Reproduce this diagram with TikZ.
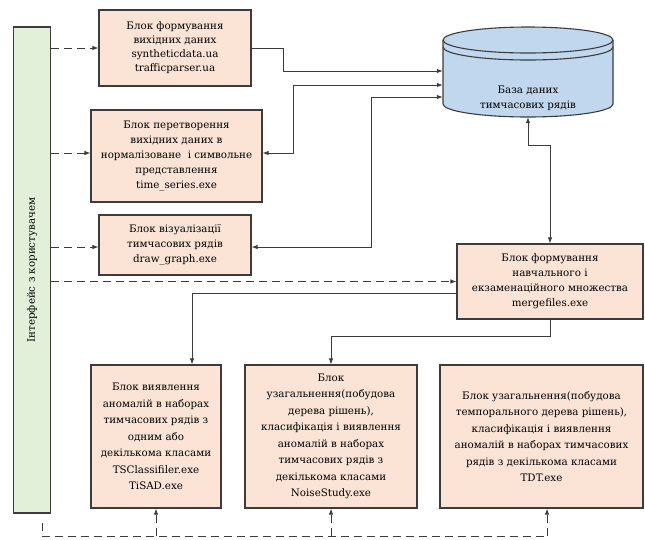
\documentclass[tikz,border=0pt]{standalone}
\usepackage{fontspec}
\setmainfont{DejaVu Serif}
\usetikzlibrary{arrows.meta}

\definecolor{blokfill}{RGB}{251,228,214}
\definecolor{uifill}{RGB}{226,240,217}
\definecolor{dbfill}{RGB}{192,215,238}
\definecolor{liniya}{RGB}{60,60,60}

\begin{document}
\begin{tikzpicture}[x=1pt, y=-1pt, >={Latex[length=6pt,width=4.5pt]},
    blok/.style={draw=liniya, line width=1.1pt, fill=blokfill, align=center, inner sep=1pt,
        font=\fontsize{10.3}{15}\selectfont},
    nyzblok/.style={blok, minimum height=143pt, font=\fontsize{10.3}{16.5}\selectfont},
    ui/.style={draw=liniya, line width=1.1pt, fill=uifill},
    conn/.style={draw=liniya, line width=0.9pt},
    dconn/.style={conn, dash pattern=on 8pt off 5pt}]
    \useasboundingbox (0,0) rectangle (645,539);

    % Інтерфейс
    \node[ui, minimum width=37pt, minimum height=486pt] (ui) at (32,270) {};
    \node[rotate=90, font=\fontsize{10.3}{13}\selectfont] (uitext) at (ui.center) {Інтерфейс з користувачем};

    % Блоки
    \node[blok, minimum width=152pt, minimum height=76pt, font=\fontsize{10.3}{14}\selectfont] (b1) at (175,48)
        {Блок формування\\вихідних даних\\syntheticdata.ua\\trafficparser.ua};
    \node[blok, minimum width=171pt, minimum height=92pt] (b2) at (176.5,156)
        {Блок перетворення\\вихідних даних в\\нормалізоване\ \ і символьне\\представлення\\time\_series.exe};
    \node[blok, minimum width=152pt, minimum height=60pt] (b3) at (175,245)
        {Блок візуалізації\\тимчасових рядів\\draw\_graph.exe};
    \node[blok, minimum width=186pt, minimum height=75pt] (b5) at (550,281.5)
        {Блок формування\\навчального і\\екзаменаційного множества\\mergefiles.exe};
    \node[nyzblok, minimum width=130pt] (b6) at (156,436.5)
        {Блок виявлення\\аномалій в наборах\\тимчасових рядів з\\одним або\\декількома класами\\TSClassifiler.exe\\TiSAD.exe};
    \node[nyzblok, minimum width=172pt] (b7) at (331,436.5)
        {Блок\\узагальнення(побудова\\дерева рішень),\\класифікація і виявлення\\аномалій в наборах\\тимчасових рядів з\\декількома класами\\NoiseStudy.exe};
    \node[nyzblok, minimum width=203pt] (b8) at (541.5,436.5)
        {Блок узагальнення(побудова\\темпорального дерева рішень),\\класифікація і виявлення\\аномалій в наборах тимчасових\\рядів з декількома класами\\TDT.exe};

    % База даних
    \node[minimum width=170pt, minimum height=90pt] (db) at (528,72) {};
    \draw[draw=liniya, line width=1.1pt, fill=dbfill] (443,40) -- (443,104)
        arc[start angle=180, end angle=360, x radius=85pt, y radius=13pt] -- (613,40)
        arc[start angle=0, end angle=180, x radius=85pt, y radius=13pt] -- cycle;
    \draw[draw=liniya, line width=1.1pt] (443,40) arc[start angle=180, end angle=360, x radius=85pt, y radius=13pt];
    \draw[draw=liniya, line width=1.1pt] (443,47) arc[start angle=180, end angle=360, x radius=85pt, y radius=13pt];
    \node[align=center, font=\fontsize{10.3}{15}\selectfont] (dbtext) at (528,98) {База даних\\тимчасових рядів};

    % Зв'язки з базою
    \draw[conn, ->] (b1.east) -| (283,71) -- (db.west |- 0,71);
    \draw[conn, <->] (db.west |- 0,85) -| (293,153) -- (b2.east |- 0,153);
    \draw[conn, <->] (db.west |- 0,97) -| (371,247) -- (b3.east |- 0,247);
    \draw[conn, <->] (db.south) -- ++(0,28) -| (b5.north);

    % Навчальне множество
    \draw[conn, ->] (b5.west |- 0,293) -| ([xshift=36pt]b6.north);
    \draw[conn, ->] (b5.south) -- ++(0,17) -| (b7.north);

    % Від інтерфейсу
    \draw[dconn, ->] (ui.east |- b1.west) -- (b1.west);
    \draw[dconn, ->] (ui.east |- 0,153) -- (b2.west |- 0,153);
    \draw[dconn, ->] (ui.east |- 0,247) -- (b3.west |- 0,247);
    \draw[dconn, ->] (ui.east |- b5.west) -- (b5.west);

    % Нижня шина
    \draw[dconn] ([xshift=10pt, yshift=-9pt]ui.south) |- (547,536);
    \draw[dconn, ->] (b6.south |- 0,536) -- (b6.south);
    \draw[dconn, ->] (b7.south |- 0,536) -- (b7.south);
    \draw[dconn, ->] (547,536) -- ([xshift=5.5pt]b8.south);
\end{tikzpicture}
\end{document}
